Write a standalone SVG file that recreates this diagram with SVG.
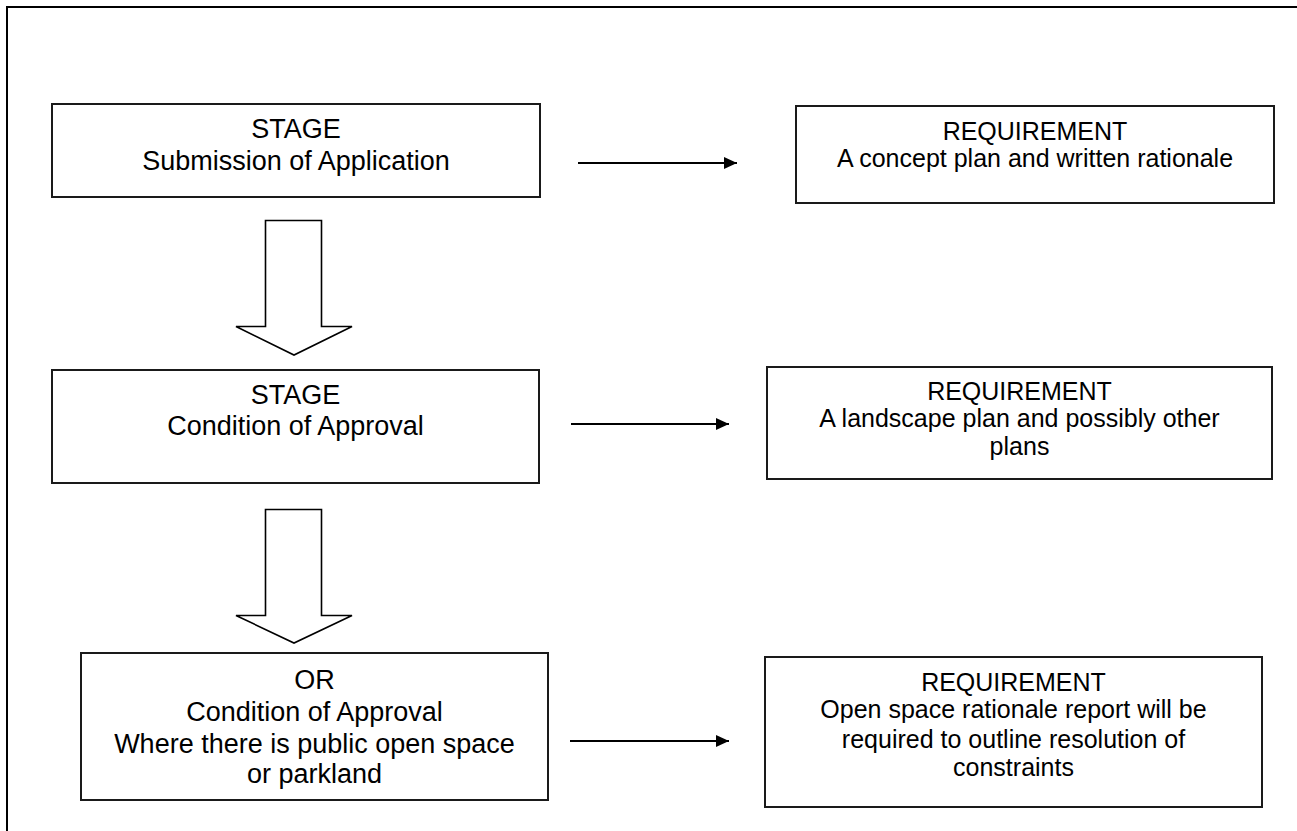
<svg xmlns="http://www.w3.org/2000/svg" width="1297" height="831" viewBox="0 0 1297 831">
<defs>
<style>
.box{fill:#fff;stroke:#1a1a1a;stroke-width:2}
.blk{fill:#fff;stroke:#000;stroke-width:1.6}
.conn{stroke:#000;stroke-width:2;fill:none}
.lt{font-family:"Liberation Sans",Arial,sans-serif;font-size:27px;fill:#000;text-anchor:middle}
.rt{font-family:"Liberation Sans",Arial,sans-serif;font-size:25px;fill:#000;text-anchor:middle}
</style>
<marker id="ah" viewBox="0 0 13 12" refX="13" refY="6" markerWidth="13" markerHeight="12" markerUnits="userSpaceOnUse" orient="auto">
<path d="M0,0 L13,6 L0,12 Z" fill="#000"/>
</marker>
</defs>
<rect width="1297" height="831" fill="#fff"/>
<rect x="7" y="7" width="1300" height="840" fill="none" stroke="#000" stroke-width="2"/>

<g id="stage1">
<rect class="box" x="52" y="104" width="488" height="93"/>
<text class="lt" x="296" y="138">STAGE</text>
<text class="lt" x="296" y="170">Submission of Application</text>
</g>
<g id="req1">
<rect class="box" x="796" y="106" width="478" height="97"/>
<text class="rt" x="1035" y="140">REQUIREMENT</text>
<text class="rt" x="1035" y="167">A concept plan and written rationale</text>
</g>
<g id="stage2">
<rect class="box" x="52" y="370" width="487" height="113"/>
<text class="lt" x="295.5" y="404">STAGE</text>
<text class="lt" x="295.5" y="435">Condition of Approval</text>
</g>
<g id="req2">
<rect class="box" x="767" y="367" width="505" height="112"/>
<text class="rt" x="1019.5" y="400">REQUIREMENT</text>
<text class="rt" x="1019.5" y="427">A landscape plan and possibly other</text>
<text class="rt" x="1019.5" y="455">plans</text>
</g>
<g id="stage3">
<rect class="box" x="81" y="653" width="467" height="147"/>
<text class="lt" x="314.5" y="689">OR</text>
<text class="lt" x="314.5" y="721">Condition of Approval</text>
<text class="lt" x="314.5" y="753">Where there is public open space</text>
<text class="lt" x="314.5" y="783">or parkland</text>
</g>
<g id="req3">
<rect class="box" x="765" y="657" width="497" height="150"/>
<text class="rt" x="1013.5" y="691">REQUIREMENT</text>
<text class="rt" x="1013.5" y="718">Open space rationale report will be</text>
<text class="rt" x="1013.5" y="748">required to outline resolution of</text>
<text class="rt" x="1013.5" y="776">constraints</text>
</g>

<g id="connectors">
<line class="conn" x1="578" y1="163" x2="737" y2="163" marker-end="url(#ah)"/>
<line class="conn" x1="571" y1="424" x2="729" y2="424" marker-end="url(#ah)"/>
<line class="conn" x1="570" y1="741" x2="729" y2="741" marker-end="url(#ah)"/>
<polygon class="blk" points="265.5,220.5 321.5,220.5 321.5,326.5 352,326.5 294,355 236,326.5 265.5,326.5"/>
<polygon class="blk" points="265.5,509.5 321.5,509.5 321.5,615.5 352,615.5 294,643 236,615.5 265.5,615.5"/>
</g>
</svg>
